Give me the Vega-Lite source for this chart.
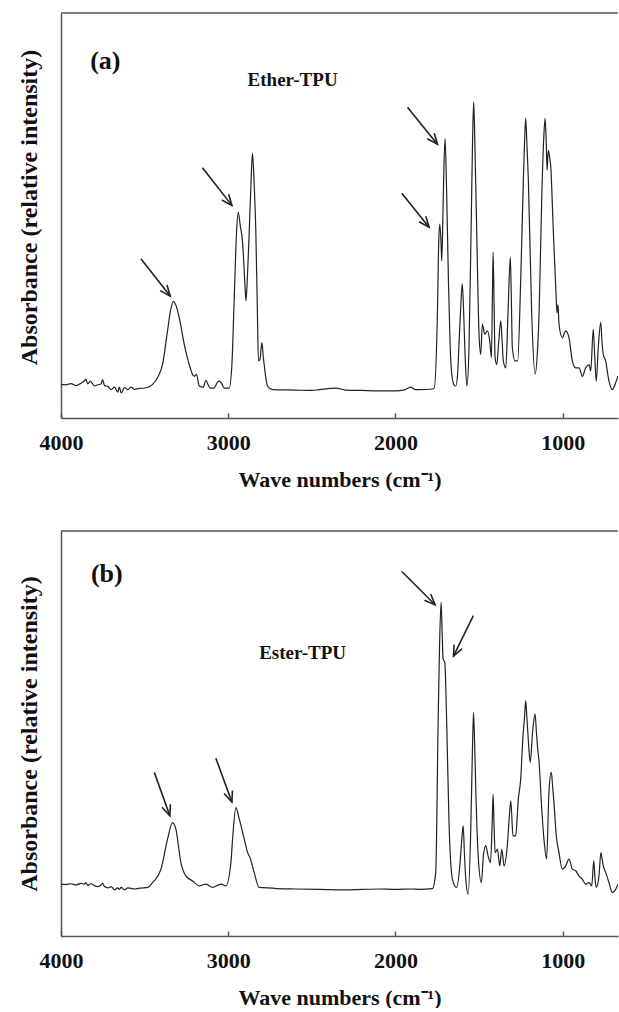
{
  "$schema": "https://vega.github.io/schema/vega-lite/v6.json",
  "padding": {"left": 17, "top": 12, "right": 0, "bottom": 0},
  "spacing": 40,
  "config": {"view": {"stroke": null}, "font": "Liberation Serif"},
  "datasets": {
    "ether": [
      {"wn": 4000, "abs": 8.3}, {"wn": 3970, "abs": 8.2}, {"wn": 3940, "abs": 8.5}, {"wn": 3910, "abs": 8.0}, {"wn": 3880, "abs": 8.6}, {"wn": 3860, "abs": 9.2}, {"wn": 3851, "abs": 9.6}, {"wn": 3840, "abs": 8.4}, {"wn": 3825, "abs": 9.1}, {"wn": 3800, "abs": 7.9}, {"wn": 3780, "abs": 8.2}, {"wn": 3760, "abs": 8.4}, {"wn": 3751, "abs": 9.5}, {"wn": 3740, "abs": 8.0}, {"wn": 3720, "abs": 7.8}, {"wn": 3700, "abs": 7.0}, {"wn": 3680, "abs": 7.6}, {"wn": 3660, "abs": 6.4}, {"wn": 3651, "abs": 7.6}, {"wn": 3640, "abs": 6.2}, {"wn": 3620, "abs": 7.5}, {"wn": 3600, "abs": 7.0}, {"wn": 3580, "abs": 7.6}, {"wn": 3560, "abs": 7.1}, {"wn": 3532, "abs": 7.3}, {"wn": 3500, "abs": 7.4}, {"wn": 3470, "abs": 7.8}, {"wn": 3452, "abs": 8.3}, {"wn": 3420, "abs": 10.2}, {"wn": 3393, "abs": 13.2}, {"wn": 3363, "abs": 21.5}, {"wn": 3345, "abs": 26.5}, {"wn": 3327, "abs": 28.8}, {"wn": 3310, "abs": 27.5}, {"wn": 3293, "abs": 24.8}, {"wn": 3263, "abs": 18.2}, {"wn": 3233, "abs": 13.2}, {"wn": 3210, "abs": 10.5}, {"wn": 3203, "abs": 10.3}, {"wn": 3190, "abs": 10.8}, {"wn": 3173, "abs": 7.9}, {"wn": 3150, "abs": 7.6}, {"wn": 3133, "abs": 9.3}, {"wn": 3120, "abs": 8.2}, {"wn": 3109, "abs": 7.4}, {"wn": 3084, "abs": 7.4}, {"wn": 3065, "abs": 8.8}, {"wn": 3054, "abs": 9.1}, {"wn": 3040, "abs": 8.6}, {"wn": 3024, "abs": 7.4}, {"wn": 2994, "abs": 7.4}, {"wn": 2978, "abs": 13.2}, {"wn": 2964, "abs": 29.7}, {"wn": 2950, "abs": 46.0}, {"wn": 2940, "abs": 50.8}, {"wn": 2928, "abs": 47.5}, {"wn": 2915, "abs": 43.8}, {"wn": 2900, "abs": 33.0}, {"wn": 2894, "abs": 28.9}, {"wn": 2885, "abs": 35.0}, {"wn": 2874, "abs": 46.3}, {"wn": 2862, "abs": 60.0}, {"wn": 2855, "abs": 65.4}, {"wn": 2845, "abs": 58.0}, {"wn": 2835, "abs": 46.3}, {"wn": 2825, "abs": 25.0}, {"wn": 2819, "abs": 14.1}, {"wn": 2810, "abs": 14.5}, {"wn": 2799, "abs": 18.6}, {"wn": 2790, "abs": 15.0}, {"wn": 2785, "abs": 13.2}, {"wn": 2765, "abs": 7.9}, {"wn": 2735, "abs": 7.0}, {"wn": 2600, "abs": 6.9}, {"wn": 2500, "abs": 6.8}, {"wn": 2456, "abs": 7.0}, {"wn": 2356, "abs": 7.4}, {"wn": 2300, "abs": 6.9}, {"wn": 2200, "abs": 6.8}, {"wn": 2100, "abs": 6.7}, {"wn": 2000, "abs": 6.7}, {"wn": 1950, "abs": 6.9}, {"wn": 1908, "abs": 7.6}, {"wn": 1880, "abs": 7.0}, {"wn": 1858, "abs": 7.0}, {"wn": 1790, "abs": 7.1}, {"wn": 1769, "abs": 7.3}, {"wn": 1749, "abs": 25.6}, {"wn": 1742, "abs": 42.0}, {"wn": 1735, "abs": 47.9}, {"wn": 1728, "abs": 44.0}, {"wn": 1723, "abs": 38.8}, {"wn": 1716, "abs": 50.0}, {"wn": 1710, "abs": 62.0}, {"wn": 1703, "abs": 69.0}, {"wn": 1695, "abs": 58.0}, {"wn": 1688, "abs": 44.0}, {"wn": 1683, "abs": 33.9}, {"wn": 1673, "abs": 18.0}, {"wn": 1663, "abs": 10.8}, {"wn": 1650, "abs": 8.2}, {"wn": 1639, "abs": 7.9}, {"wn": 1628, "abs": 11.0}, {"wn": 1619, "abs": 19.0}, {"wn": 1610, "abs": 27.0}, {"wn": 1600, "abs": 33.1}, {"wn": 1592, "abs": 26.0}, {"wn": 1585, "abs": 17.4}, {"wn": 1573, "abs": 7.9}, {"wn": 1560, "abs": 17.4}, {"wn": 1546, "abs": 50.4}, {"wn": 1538, "abs": 70.0}, {"wn": 1532, "abs": 78.1}, {"wn": 1525, "abs": 68.0}, {"wn": 1516, "abs": 50.4}, {"wn": 1500, "abs": 20.7}, {"wn": 1490, "abs": 15.7}, {"wn": 1480, "abs": 23.2}, {"wn": 1466, "abs": 20.7}, {"wn": 1450, "abs": 21.5}, {"wn": 1436, "abs": 19.0}, {"wn": 1426, "abs": 14.9}, {"wn": 1420, "abs": 30.0}, {"wn": 1416, "abs": 40.9}, {"wn": 1410, "abs": 28.0}, {"wn": 1404, "abs": 14.9}, {"wn": 1394, "abs": 13.2}, {"wn": 1382, "abs": 19.0}, {"wn": 1370, "abs": 24.0}, {"wn": 1362, "abs": 19.0}, {"wn": 1355, "abs": 14.1}, {"wn": 1340, "abs": 12.4}, {"wn": 1327, "abs": 25.6}, {"wn": 1313, "abs": 39.7}, {"wn": 1307, "abs": 30.0}, {"wn": 1301, "abs": 17.4}, {"wn": 1285, "abs": 14.1}, {"wn": 1269, "abs": 14.1}, {"wn": 1251, "abs": 33.9}, {"wn": 1235, "abs": 58.7}, {"wn": 1228, "abs": 68.0}, {"wn": 1221, "abs": 74.0}, {"wn": 1214, "abs": 68.0}, {"wn": 1205, "abs": 58.7}, {"wn": 1185, "abs": 25.6}, {"wn": 1165, "abs": 10.8}, {"wn": 1150, "abs": 17.0}, {"wn": 1141, "abs": 25.6}, {"wn": 1125, "abs": 54.5}, {"wn": 1112, "abs": 70.0}, {"wn": 1105, "abs": 74.0}, {"wn": 1098, "abs": 68.0}, {"wn": 1093, "abs": 61.2}, {"wn": 1086, "abs": 66.1}, {"wn": 1078, "abs": 64.5}, {"wn": 1071, "abs": 62.0}, {"wn": 1056, "abs": 46.3}, {"wn": 1040, "abs": 31.0}, {"wn": 1034, "abs": 26.0}, {"wn": 1028, "abs": 28.0}, {"wn": 1022, "abs": 23.2}, {"wn": 1002, "abs": 19.8}, {"wn": 982, "abs": 21.5}, {"wn": 962, "abs": 19.8}, {"wn": 942, "abs": 14.1}, {"wn": 922, "abs": 12.4}, {"wn": 902, "abs": 12.4}, {"wn": 882, "abs": 10.3}, {"wn": 862, "abs": 12.4}, {"wn": 842, "abs": 13.2}, {"wn": 832, "abs": 11.6}, {"wn": 817, "abs": 21.9}, {"wn": 808, "abs": 15.0}, {"wn": 799, "abs": 9.1}, {"wn": 787, "abs": 17.4}, {"wn": 772, "abs": 23.6}, {"wn": 765, "abs": 19.0}, {"wn": 757, "abs": 15.7}, {"wn": 743, "abs": 14.1}, {"wn": 723, "abs": 9.1}, {"wn": 703, "abs": 7.0}, {"wn": 683, "abs": 8.7}, {"wn": 669, "abs": 10.3}
    ],
    "ester": [
      {"wn": 4000, "abs": 12.8}, {"wn": 3970, "abs": 12.7}, {"wn": 3940, "abs": 12.9}, {"wn": 3910, "abs": 12.6}, {"wn": 3880, "abs": 13.0}, {"wn": 3860, "abs": 12.8}, {"wn": 3851, "abs": 13.2}, {"wn": 3840, "abs": 12.5}, {"wn": 3820, "abs": 12.9}, {"wn": 3800, "abs": 12.4}, {"wn": 3780, "abs": 12.2}, {"wn": 3760, "abs": 12.6}, {"wn": 3751, "abs": 13.0}, {"wn": 3740, "abs": 12.2}, {"wn": 3720, "abs": 11.9}, {"wn": 3700, "abs": 12.2}, {"wn": 3680, "abs": 11.4}, {"wn": 3660, "abs": 11.9}, {"wn": 3651, "abs": 11.5}, {"wn": 3640, "abs": 12.0}, {"wn": 3620, "abs": 11.4}, {"wn": 3600, "abs": 11.9}, {"wn": 3560, "abs": 11.6}, {"wn": 3532, "abs": 11.8}, {"wn": 3480, "abs": 12.0}, {"wn": 3452, "abs": 13.2}, {"wn": 3402, "abs": 16.5}, {"wn": 3363, "abs": 23.9}, {"wn": 3333, "abs": 28.0}, {"wn": 3313, "abs": 26.4}, {"wn": 3283, "abs": 18.1}, {"wn": 3253, "abs": 14.8}, {"wn": 3213, "abs": 13.6}, {"wn": 3173, "abs": 12.4}, {"wn": 3133, "abs": 12.8}, {"wn": 3094, "abs": 12.0}, {"wn": 3044, "abs": 12.8}, {"wn": 3014, "abs": 12.4}, {"wn": 2984, "abs": 18.1}, {"wn": 2974, "abs": 23.9}, {"wn": 2954, "abs": 31.7}, {"wn": 2934, "abs": 28.9}, {"wn": 2904, "abs": 23.9}, {"wn": 2884, "abs": 20.6}, {"wn": 2870, "abs": 19.4}, {"wn": 2845, "abs": 15.7}, {"wn": 2815, "abs": 12.0}, {"wn": 2735, "abs": 11.8}, {"wn": 2700, "abs": 11.7}, {"wn": 2600, "abs": 11.6}, {"wn": 2456, "abs": 11.5}, {"wn": 2300, "abs": 11.4}, {"wn": 2200, "abs": 11.5}, {"wn": 2100, "abs": 11.6}, {"wn": 2000, "abs": 11.5}, {"wn": 1900, "abs": 11.6}, {"wn": 1858, "abs": 11.5}, {"wn": 1779, "abs": 11.7}, {"wn": 1759, "abs": 15.7}, {"wn": 1745, "abs": 51.9}, {"wn": 1736, "abs": 72.0}, {"wn": 1727, "abs": 82.4}, {"wn": 1720, "abs": 74.0}, {"wn": 1715, "abs": 68.4}, {"wn": 1705, "abs": 67.6}, {"wn": 1700, "abs": 63.0}, {"wn": 1693, "abs": 51.9}, {"wn": 1679, "abs": 27.2}, {"wn": 1659, "abs": 14.0}, {"wn": 1635, "abs": 12.0}, {"wn": 1615, "abs": 17.3}, {"wn": 1603, "abs": 24.0}, {"wn": 1595, "abs": 27.2}, {"wn": 1587, "abs": 20.0}, {"wn": 1579, "abs": 14.0}, {"wn": 1565, "abs": 10.3}, {"wn": 1549, "abs": 27.2}, {"wn": 1540, "abs": 45.0}, {"wn": 1533, "abs": 55.2}, {"wn": 1526, "abs": 47.0}, {"wn": 1519, "abs": 35.5}, {"wn": 1504, "abs": 19.0}, {"wn": 1486, "abs": 13.2}, {"wn": 1474, "abs": 19.8}, {"wn": 1460, "abs": 22.3}, {"wn": 1446, "abs": 19.8}, {"wn": 1432, "abs": 18.1}, {"wn": 1422, "abs": 27.0}, {"wn": 1416, "abs": 35.0}, {"wn": 1410, "abs": 27.0}, {"wn": 1404, "abs": 20.6}, {"wn": 1390, "abs": 21.4}, {"wn": 1376, "abs": 17.3}, {"wn": 1364, "abs": 21.4}, {"wn": 1350, "abs": 17.3}, {"wn": 1331, "abs": 22.3}, {"wn": 1318, "abs": 30.0}, {"wn": 1310, "abs": 33.4}, {"wn": 1297, "abs": 24.7}, {"wn": 1281, "abs": 24.7}, {"wn": 1265, "abs": 33.8}, {"wn": 1251, "abs": 38.7}, {"wn": 1237, "abs": 49.5}, {"wn": 1228, "abs": 54.0}, {"wn": 1221, "abs": 58.1}, {"wn": 1214, "abs": 54.0}, {"wn": 1207, "abs": 49.5}, {"wn": 1194, "abs": 42.9}, {"wn": 1180, "abs": 50.3}, {"wn": 1165, "abs": 54.8}, {"wn": 1158, "abs": 51.0}, {"wn": 1151, "abs": 47.0}, {"wn": 1141, "abs": 42.9}, {"wn": 1125, "abs": 31.3}, {"wn": 1110, "abs": 23.1}, {"wn": 1096, "abs": 19.0}, {"wn": 1082, "abs": 35.5}, {"wn": 1068, "abs": 40.4}, {"wn": 1060, "abs": 37.0}, {"wn": 1052, "abs": 33.0}, {"wn": 1038, "abs": 24.7}, {"wn": 1022, "abs": 20.6}, {"wn": 1002, "abs": 16.5}, {"wn": 982, "abs": 17.3}, {"wn": 962, "abs": 19.0}, {"wn": 942, "abs": 16.5}, {"wn": 922, "abs": 16.1}, {"wn": 902, "abs": 14.8}, {"wn": 882, "abs": 14.0}, {"wn": 862, "abs": 12.8}, {"wn": 842, "abs": 13.2}, {"wn": 826, "abs": 12.4}, {"wn": 814, "abs": 18.6}, {"wn": 806, "abs": 14.0}, {"wn": 799, "abs": 12.0}, {"wn": 783, "abs": 14.8}, {"wn": 771, "abs": 20.6}, {"wn": 764, "abs": 19.0}, {"wn": 757, "abs": 17.3}, {"wn": 743, "abs": 15.7}, {"wn": 723, "abs": 13.2}, {"wn": 703, "abs": 10.7}, {"wn": 683, "abs": 11.5}, {"wn": 669, "abs": 12.8}
    ],
    "arrows": [
      {"panel": "a", "id": 1, "wn": 3522, "abs": 39.3, "wn2": 3347, "abs2": 30.1},
      {"panel": "a", "id": 2, "wn": 3154, "abs": 61.8, "wn2": 2978, "abs2": 52.5},
      {"panel": "a", "id": 3, "wn": 1928, "abs": 76.7, "wn2": 1749, "abs2": 67.6},
      {"panel": "a", "id": 4, "wn": 1962, "abs": 55.5, "wn2": 1799, "abs2": 47.1},
      {"panel": "b", "id": 5, "wn": 3442, "abs": 40.4, "wn2": 3349, "abs2": 29.7},
      {"panel": "b", "id": 6, "wn": 3074, "abs": 43.9, "wn2": 2978, "abs2": 33.1},
      {"panel": "b", "id": 7, "wn": 1962, "abs": 90.0, "wn2": 1763, "abs2": 81.8},
      {"panel": "b", "id": 8, "wn": 1534, "abs": 79.1, "wn2": 1653, "abs2": 69.1}
    ],
    "labels": [
      {"panel": "a", "kind": "tag", "label": "(a)", "wn": 3735, "abs": 88.2},
      {"panel": "a", "kind": "name", "label": "Ether-TPU", "wn": 2615, "abs": 83.5},
      {"panel": "b", "kind": "tag", "label": "(b)", "wn": 3726, "abs": 89.4},
      {"panel": "b", "kind": "name", "label": "Ester-TPU", "wn": 2555, "abs": 70.0}
    ],
    "frame": [{"edge": "top", "abs": 100}]
  },
  "vconcat": [
    {
      "width": 557,
      "height": 405,
      "layer": [
        {
          "data": {"name": "ether"},
          "mark": {"type": "line", "color": "#222", "strokeWidth": 1.2, "clip": true, "interpolate": "monotone"},
          "encoding": {
            "x": {"field": "wn", "type": "quantitative",
              "scale": {"domain": [669, 4000], "reverse": true, "nice": false, "zero": false},
              "axis": {"title": "Wave numbers (cm⁻¹)", "values": [4000, 3000, 2000, 1000], "format": "d", "grid": false,
                "tickSize": -5, "tickColor": "#555", "tickWidth": 1.5, "domainColor": "#555", "domainWidth": 1.5,
                "labelFont": "Liberation Serif", "labelFontWeight": "bold", "labelFontSize": 22, "labelColor": "#111",
                "labelPadding": 19, "labelFlush": false, "labelOverlap": false,
                "titleFont": "Liberation Serif", "titleFontSize": 22, "titleFontWeight": "bold", "titleColor": "#111", "titlePadding": 16}},
            "y": {"field": "abs", "type": "quantitative",
              "scale": {"domain": [0, 100], "nice": false, "zero": false},
              "axis": {"title": "Absorbance (relative intensity)", "labels": false, "ticks": false, "grid": false,
                "domainColor": "#555", "domainWidth": 1.5,
                "titleFont": "Liberation Serif", "titleFontSize": 24, "titleFontWeight": "bold", "titleColor": "#111", "titlePadding": 20, "titleY": 194}}
          }
        },
        {
          "data": {"name": "frame"},
          "mark": {"type": "rule", "color": "#555", "strokeWidth": 1.5},
          "encoding": {"y": {"field": "abs", "type": "quantitative", "title": "Absorbance (relative intensity)"}}
        },
        {
          "data": {"name": "arrows"},
          "transform": [{"filter": "datum.panel === 'a'"}],
          "mark": {"type": "rule", "color": "#222", "strokeWidth": 1.6},
          "encoding": {
            "x": {"field": "wn", "type": "quantitative", "title": "Wave numbers (cm⁻¹)"},
            "y": {"field": "abs", "type": "quantitative", "title": "Absorbance (relative intensity)"},
            "x2": {"field": "wn2"},
            "y2": {"field": "abs2"}
          }
        },
        {
          "data": {"name": "arrows"},
          "transform": [{"filter": "datum.panel === 'a'"}],
          "mark": {"type": "point", "shape": "M-1,-0.42L0,0L-1,0.42", "filled": false, "stroke": "#222", "strokeWidth": 1.6, "size": 450, "angle": 51, "opacity": 1},
          "encoding": {
            "x": {"field": "wn2", "type": "quantitative", "title": "Wave numbers (cm⁻¹)"},
            "y": {"field": "abs2", "type": "quantitative", "title": "Absorbance (relative intensity)"}
          }
        },
        {
          "data": {"name": "labels"},
          "transform": [{"filter": "datum.panel === 'a' && datum.kind === 'tag'"}],
          "mark": {"type": "text", "font": "Liberation Serif", "fontWeight": "bold", "fontSize": 26, "color": "#111", "align": "center", "baseline": "middle"},
          "encoding": {
            "x": {"field": "wn", "type": "quantitative", "title": "Wave numbers (cm⁻¹)"},
            "y": {"field": "abs", "type": "quantitative", "title": "Absorbance (relative intensity)"},
            "text": {"field": "label"}
          }
        },
        {
          "data": {"name": "labels"},
          "transform": [{"filter": "datum.panel === 'a' && datum.kind === 'name'"}],
          "mark": {"type": "text", "font": "Liberation Serif", "fontWeight": "bold", "fontSize": 19, "color": "#111", "align": "center", "baseline": "middle"},
          "encoding": {
            "x": {"field": "wn", "type": "quantitative", "title": "Wave numbers (cm⁻¹)"},
            "y": {"field": "abs", "type": "quantitative", "title": "Absorbance (relative intensity)"},
            "text": {"field": "label"}
          }
        }
      ]
    },
    {
      "width": 557,
      "height": 405,
      "layer": [
        {
          "data": {"name": "ester"},
          "mark": {"type": "line", "color": "#222", "strokeWidth": 1.2, "clip": true, "interpolate": "monotone"},
          "encoding": {
            "x": {"field": "wn", "type": "quantitative",
              "scale": {"domain": [669, 4000], "reverse": true, "nice": false, "zero": false},
              "axis": {"title": "Wave numbers (cm⁻¹)", "values": [4000, 3000, 2000, 1000], "format": "d", "grid": false,
                "tickSize": -5, "tickColor": "#555", "tickWidth": 1.5, "domainColor": "#555", "domainWidth": 1.5,
                "labelFont": "Liberation Serif", "labelFontWeight": "bold", "labelFontSize": 22, "labelColor": "#111",
                "labelPadding": 19, "labelFlush": false, "labelOverlap": false,
                "titleFont": "Liberation Serif", "titleFontSize": 22, "titleFontWeight": "bold", "titleColor": "#111", "titlePadding": 16}},
            "y": {"field": "abs", "type": "quantitative",
              "scale": {"domain": [0, 100], "nice": false, "zero": false},
              "axis": {"title": "Absorbance (relative intensity)", "labels": false, "ticks": false, "grid": false,
                "domainColor": "#555", "domainWidth": 1.5,
                "titleFont": "Liberation Serif", "titleFontSize": 24, "titleFontWeight": "bold", "titleColor": "#111", "titlePadding": 20}}
          }
        },
        {
          "data": {"name": "frame"},
          "mark": {"type": "rule", "color": "#555", "strokeWidth": 1.5},
          "encoding": {"y": {"field": "abs", "type": "quantitative", "title": "Absorbance (relative intensity)"}}
        },
        {
          "data": {"name": "arrows"},
          "transform": [{"filter": "datum.panel === 'b'"}],
          "mark": {"type": "rule", "color": "#222", "strokeWidth": 1.6},
          "encoding": {
            "x": {"field": "wn", "type": "quantitative", "title": "Wave numbers (cm⁻¹)"},
            "y": {"field": "abs", "type": "quantitative", "title": "Absorbance (relative intensity)"},
            "x2": {"field": "wn2"},
            "y2": {"field": "abs2"}
          }
        },
        {
          "data": {"name": "arrows"},
          "transform": [{"filter": "datum.id === 5 || datum.id === 6"}],
          "mark": {"type": "point", "shape": "M-1,-0.42L0,0L-1,0.42", "filled": false, "stroke": "#222", "strokeWidth": 1.6, "size": 450, "angle": 70, "opacity": 1},
          "encoding": {
            "x": {"field": "wn2", "type": "quantitative", "title": "Wave numbers (cm⁻¹)"},
            "y": {"field": "abs2", "type": "quantitative", "title": "Absorbance (relative intensity)"}
          }
        },
        {
          "data": {"name": "arrows"},
          "transform": [{"filter": "datum.id === 7"}],
          "mark": {"type": "point", "shape": "M-1,-0.42L0,0L-1,0.42", "filled": false, "stroke": "#222", "strokeWidth": 1.6, "size": 450, "angle": 45, "opacity": 1},
          "encoding": {
            "x": {"field": "wn2", "type": "quantitative", "title": "Wave numbers (cm⁻¹)"},
            "y": {"field": "abs2", "type": "quantitative", "title": "Absorbance (relative intensity)"}
          }
        },
        {
          "data": {"name": "arrows"},
          "transform": [{"filter": "datum.id === 8"}],
          "mark": {"type": "point", "shape": "M-1,-0.42L0,0L-1,0.42", "filled": false, "stroke": "#222", "strokeWidth": 1.6, "size": 450, "angle": 116, "opacity": 1},
          "encoding": {
            "x": {"field": "wn2", "type": "quantitative", "title": "Wave numbers (cm⁻¹)"},
            "y": {"field": "abs2", "type": "quantitative", "title": "Absorbance (relative intensity)"}
          }
        },
        {
          "data": {"name": "labels"},
          "transform": [{"filter": "datum.panel === 'b' && datum.kind === 'tag'"}],
          "mark": {"type": "text", "font": "Liberation Serif", "fontWeight": "bold", "fontSize": 26, "color": "#111", "align": "center", "baseline": "middle"},
          "encoding": {
            "x": {"field": "wn", "type": "quantitative", "title": "Wave numbers (cm⁻¹)"},
            "y": {"field": "abs", "type": "quantitative", "title": "Absorbance (relative intensity)"},
            "text": {"field": "label"}
          }
        },
        {
          "data": {"name": "labels"},
          "transform": [{"filter": "datum.panel === 'b' && datum.kind === 'name'"}],
          "mark": {"type": "text", "font": "Liberation Serif", "fontWeight": "bold", "fontSize": 19, "color": "#111", "align": "center", "baseline": "middle"},
          "encoding": {
            "x": {"field": "wn", "type": "quantitative", "title": "Wave numbers (cm⁻¹)"},
            "y": {"field": "abs", "type": "quantitative", "title": "Absorbance (relative intensity)"},
            "text": {"field": "label"}
          }
        }
      ]
    }
  ]
}
